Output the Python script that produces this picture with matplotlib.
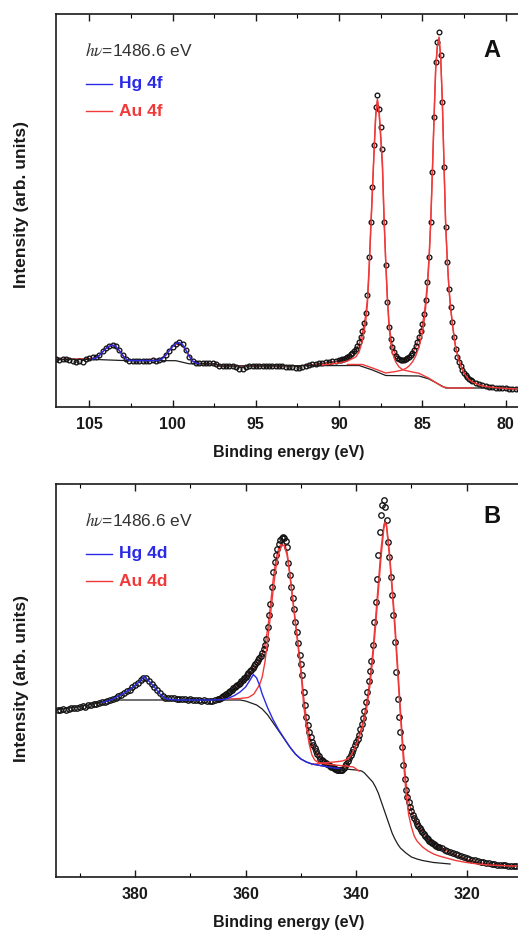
import numpy as np
import matplotlib
matplotlib.use('Agg')
import matplotlib.pyplot as plt
from matplotlib.ticker import MultipleLocator
from matplotlib.lines import Line2D

plt.rcParams['font.family'] = ['Liberation Sans', 'DejaVu Sans']
plt.rcParams['mathtext.fontset'] = 'stix'

# ---------------- Panel A : Hg 4f / Au 4f ----------------
# measured points (binding energy grid, intensity arb. units)
xA = np.concatenate([np.linspace(107.0, 90.2, 85),
                     np.linspace(90.0, 82.0, 81),
                     np.linspace(81.8, 79.0, 15)])
yA = [47.5, 47, 48, 47.5, 47, 45.5, 44.5, 46, 44.5, 48,
      48.5, 49.5, 50, 52, 55.5, 58.5, 61, 62, 60.5, 56.5,
      51.5, 47.5, 46, 46, 46, 45.5, 46, 46, 46, 46.5,
      46, 46.5, 47.5, 51.5, 56, 60, 63, 64.5, 63, 57,
      50, 46, 44, 43.5, 43.5, 43.5, 43.5, 43.5, 43, 41,
      40.5, 40.5, 40.5, 40.5, 40, 38, 37.5, 40, 40.5, 40.5,
      40.5, 40.5, 40.5, 40.5, 40.5, 40.5, 40.5, 40.5, 40.5, 40,
      39.5, 39.5, 38.5, 38.5, 39.5, 41, 42, 42.5, 43, 43.5,
      44, 44.5, 45, 45.5, 46,
      # 90.0 .. 82.0 (0.1 eV)
      46.5, 47, 47.5, 48, 48.5, 50, 51, 52.5, 54, 56,
      58, 61, 65, 70, 76, 84, 94, 112, 150, 185,
      220, 262, 300, 312, 298, 280, 258, 185, 142, 105,
      80, 68, 60, 55, 51, 49, 48, 47, 47, 47,
      47.5, 49, 50, 52, 54, 57, 61, 65, 70, 76,
      83, 93, 107, 125, 150, 185, 235, 290, 345, 365,
      375, 352, 305, 240, 180, 145, 118, 100, 85, 70,
      58, 50, 45, 41, 37, 34, 32, 30, 28, 27,
      26,
      # 81.8 .. 79.0
      24, 22.5, 21.5, 20.5, 20, 19.5, 19, 19, 18.5, 18.5, 18, 18, 18, 17.5, 17.5]

bgA_x = [107, 104.6, 103.0, 99.8, 99.0, 97.4, 97.2, 88.8, 88.0, 87.2, 85.2, 84.6, 83.6, 79]
bgA_y = [47.5, 47.5, 46.5, 46.3, 43.2, 43.2, 41.0, 41.5, 37, 31.5, 31, 28, 19, 19]

hgA_x = [104.8, 104.6, 104.4, 104.2, 104.0, 103.8, 103.6, 103.4, 103.2, 103.0, 102.8,
         102.6, 101.0, 100.8, 100.6, 100.4, 100.2, 100.0, 99.8, 99.6, 99.4, 99.2,
         99.0, 98.8, 98.6, 98.4]
hgA_y = [48, 49, 51.5, 55, 58.5, 61, 62, 60.5, 56.5, 51.5, 48,
         46.5, 46.5, 47, 48.5, 52, 56.5, 60.5, 63.5, 64.5, 62.5, 57,
         50.5, 46, 44, 43.3]

envA_x = [107, 104.8, 104.4, 104.0, 103.6, 103.2, 102.8, 102.6, 100.8, 100.4, 100.0, 99.6,
          99.2, 98.8, 98.5, 97.4, 97.2, 93.0, 92.0, 91.0, 90.0, 89.5, 89.0, 88.8, 88.6,
          88.4, 88.3, 88.2, 88.1, 88.0, 87.9, 87.8, 87.7, 87.6, 87.5, 87.4, 87.3, 87.2,
          87.1, 87.0, 86.9, 86.8, 86.6, 86.4, 86.2, 86.0, 85.8, 85.6, 85.4, 85.2, 85.0,
          84.9, 84.8, 84.7, 84.6, 84.5, 84.4, 84.3, 84.2, 84.1, 84.0, 83.9, 83.8, 83.7,
          83.6, 83.5, 83.4, 83.3, 83.2, 83.1, 83.0, 82.8, 82.6, 82.4, 82.2, 82.0, 81.5,
          81.0, 80.0, 79.0]
envA_y = [47.5, 48.5, 51.5, 58.5, 62, 56.5, 48, 46.5, 47, 52, 60.5, 64.5,
          57, 46, 43.5, 43, 41, 41, 41.5, 43.5, 46, 49.5, 57, 63, 74,
          92, 108, 140, 180, 218, 258, 293, 308, 296, 272, 245, 190, 146,
          110, 84, 70, 61, 52, 48.5, 47.5, 48, 50, 54, 60, 69, 82,
          92, 106, 124, 150, 186, 236, 290, 340, 362, 370, 350, 305, 242,
          182, 146, 118, 99, 84, 71, 60, 47, 38, 32, 28, 25.5, 21.5,
          20, 18.5, 18]

au52A_x = [91.0, 90.0, 89.5, 89.0, 88.8, 88.6, 88.4, 88.3, 88.2, 88.1, 88.0, 87.9, 87.8,
           87.7, 87.6, 87.5, 87.4, 87.3, 87.2, 87.1, 87.0, 86.9, 86.8, 86.6, 86.4, 86.2,
           86.0, 85.6, 85.2, 84.6, 83.8, 83.4, 82.0]
au52A_y = [42, 44, 46, 50, 55, 66, 86, 103, 135, 176, 215, 255, 291,
           306, 294, 268, 240, 186, 144, 106, 80, 64, 54, 45, 40, 37.5,
           36.5, 35, 33.7, 28.7, 20.3, 19, 19]

au72A_x = [89.5, 88.6, 88.0, 87.2, 86.6, 86.2, 86.0, 85.8, 85.6, 85.4, 85.2, 85.0, 84.9,
           84.8, 84.7, 84.6, 84.5, 84.4, 84.3, 84.2, 84.1, 84.0, 83.9, 83.8, 83.7, 83.6,
           83.5, 83.4, 83.3, 83.2, 83.1, 83.0, 82.8, 82.6, 82.4, 82.2, 82.0, 81.5, 81.0,
           80.0, 79.0]
au72A_y = [42.5, 42.5, 39, 34, 35.5, 37, 38.5, 41, 45, 51, 60, 74, 85,
           100, 119, 146, 183, 233, 288, 338, 360, 369, 349, 304, 241, 181,
           145, 117, 98, 83, 70, 59, 46, 37.5, 31.5, 27.5, 25, 21.5, 20,
           18.5, 18]

# ---------------- Panel B : Hg 4d / Au 4d ----------------
xB = np.concatenate([np.linspace(394.0, 365.5, 58),
                     np.linspace(365.0, 325.0, 161),
                     np.linspace(324.5, 311.0, 28)])
yB = [167, 167.5, 168, 167.5, 168.5, 169, 169.5, 169, 170, 171,
      170.5, 172, 172.5, 173, 173.5, 174, 175, 175.5, 176, 177,
      178, 179.5, 181, 182.5, 184, 186, 187.5, 190, 192, 194.5,
      197, 199, 199.5, 196, 193, 190, 187, 184, 181, 179.5,
      179, 179.5, 179, 178.5, 178, 178.5, 178, 177.5, 178, 177,
      177.5, 177, 176.5, 177, 176.5, 176, 176.5, 177.5,
      # 365.0 .. 325.0 (0.25 eV)
      178, 178.5, 179.5, 180,
      181, 182, 183, 184,
      185, 186, 187.5, 189,
      190, 191, 192, 193,
      194.5, 196, 197.5, 199,
      200.5, 202, 204, 206,
      207.5, 209, 211, 213,
      215, 217, 219, 221,
      224, 228, 232, 238,
      250, 262, 273, 290,
      305, 315, 322, 328,
      333, 337, 339, 340,
      339, 336, 330, 314,
      302, 290, 279, 268,
      255, 245, 234, 222,
      213, 202, 185, 172,
      160, 152, 145, 140,
      135, 132, 129, 126,
      123, 121, 118, 117,
      116, 115, 114, 113,
      112, 111, 110.5, 110,
      109, 108, 107.5, 107,
      107, 107, 107.5, 109,
      111, 113, 116, 119,
      122, 125, 128, 132,
      135, 138, 142, 148,
      153, 159, 166, 175,
      185, 196, 206, 216,
      232, 255, 275, 298,
      322, 345, 362, 372,
      377, 370, 357, 335,
      320, 300, 282, 262,
      235, 205, 178, 160,
      145, 130, 112, 98,
      87, 80, 75, 70,
      66, 62, 59, 56,
      53, 51, 49, 47,
      45, 43, 41, 39,
      38, 36.5, 35.5, 34,
      33, 32, 31, 30.5,
      30,
      # 324.5 .. 311.0
      29, 27.5, 26, 25, 24, 23, 22, 21, 20, 19,
      18.5, 17.5, 17, 16, 15.5, 15, 14.5, 14, 13.5, 13,
      12.5, 12.5, 12, 12, 11.5, 11.5, 11, 11]

bgB_x = [394.3, 390, 386, 384.5, 370, 361, 360, 358, 357, 356, 355, 354, 353, 352, 351,
         350, 349, 348, 346, 344, 342, 340, 339, 338.5, 338, 337.5, 337, 336.5, 336,
         335.5, 335, 334.5, 334, 333.5, 333, 332.5, 332, 331, 330, 329, 328, 327, 326,
         325, 324, 323]
bgB_y = [167, 170.5, 174.5, 177, 177, 177, 176, 172, 168, 162, 154, 146, 138, 130, 123,
         118, 115, 113, 111, 109, 108, 107, 106, 104, 101, 98, 95, 90, 84,
         76, 68, 60, 52, 44, 38, 33, 29, 24, 20, 18, 16.5, 15.5, 14.5,
         14, 13.5, 13]

hgB_x = [386, 385, 384, 383, 382, 381, 380, 379, 378.3, 377.5, 376.5, 375.5, 374.5, 373.5,
         372, 366, 364, 363, 362, 361, 360, 359.3, 358.6, 358.0, 357.5, 357.0, 356.5,
         356.0, 355.5, 355.0, 354.0, 353.0, 352, 351, 350, 349, 348, 346, 344, 343]
hgB_y = [174.5, 176, 178, 181, 184, 187.5, 191.5, 196.5, 200.5, 196, 190, 183, 178.5, 177.5,
         177, 177, 177.5, 179, 181.5, 185, 190, 196, 202.5, 199, 192, 183, 176,
         169, 163, 157, 147, 138.5, 130, 123, 118, 115, 113, 111, 109, 108.5]

au52B_x = [363, 361, 359.5, 358.5, 357.5, 357, 356.5, 356, 355.5, 355, 354.5, 354, 353.5,
           353.25, 353, 352.5, 352, 351.5, 351, 350.5, 350, 349.5, 349, 348.5, 348, 347.5,
           347, 346, 344, 342, 340.5, 339.5]
au52B_y = [178, 178.5, 179.5, 183, 192, 200, 215, 237, 262, 288, 310, 324, 331,
           332, 331, 322, 302, 278, 254, 230, 205, 172, 150, 133, 122, 117,
           115, 113.5, 112, 111, 110, 106]

au32B_x = [348, 346, 344, 342.5, 341.5, 341, 340.5, 340, 339.5, 339, 338.5, 338, 337.5,
           337, 336.5, 336, 335.5, 335, 334.75, 334.5, 334, 333.5, 333, 332.5, 332, 331.5,
           331, 330.5, 330, 329.5, 329, 328, 327, 326, 325, 324, 322, 320, 318, 316, 314,
           312, 311]
au32B_y = [112.5, 114, 115, 116, 118, 121, 126, 132, 139, 147, 158, 172, 192,
           218, 250, 285, 320, 348, 355, 350, 322, 287, 248, 205, 162, 120,
           85, 62, 50, 41, 36, 30, 26, 23, 21, 19.5, 16.5, 14.5, 13, 12, 11.5,
           11, 11]

envB_x = [365, 364, 363, 362, 361, 360, 359, 358.5, 358, 357.5, 357, 356.5, 356, 355.5,
          355, 354.5, 354, 353.5, 353.25, 353, 352.5, 352, 351.5, 351, 350.5, 350, 349.5,
          349, 348.5, 348, 347.5, 347, 346, 345, 344, 343, 342.5, 342, 341.5, 341, 340.5,
          340, 339.5, 339, 338.5, 338, 337.5, 337, 336.5, 336, 335.5, 335, 334.75, 334.5,
          334, 333.5, 333, 332.5, 332, 331.5, 331, 330.5, 330, 329.5, 329, 328, 327, 326,
          325, 324, 322, 320, 318, 316, 314, 312, 311]
envB_y = [178, 180.5, 184, 188, 193, 199, 205, 208, 212, 217, 223, 232, 248, 272,
          298, 318, 329, 334, 335, 334, 325, 304, 280, 256, 233, 210, 180,
          158, 143, 133, 127, 122, 116.5, 113, 110.5, 109, 109, 110.5, 114, 120, 126,
          133, 141, 150, 162, 178, 198, 225, 258, 293, 328, 352, 356, 352,
          326, 292, 255, 212, 168, 128, 95, 76, 66, 59, 53, 45, 38, 33,
          30, 27, 22, 17.5, 14.5, 13, 12, 11, 11]

# ---------------- drawing ----------------
RED = '#f03a3a'
BLUE = '#2a2ae6'
BLACK = '#1e1e1e'

fig = plt.figure(figsize=(5.18, 9.31), dpi=100)
axA = fig.add_axes([56 / 518, 1 - 407 / 931, 466.3 / 518, 393 / 931])
axB = fig.add_axes([56 / 518, 1 - 877 / 931, 466.0 / 518, 393 / 931])


def draw(ax, x, y, ms, env, comps, hg, bg):
    ax.plot(env[0], env[1], color=RED, lw=1.0, zorder=1.5)
    ax.plot(x, y, 'o', mfc='none', mec='#111111', ms=ms, mew=0.95, zorder=2)
    ax.plot(bg[0], bg[1], color=BLACK, lw=0.9, zorder=3)
    for cx, cy in comps:
        ax.plot(cx, cy, color=RED, lw=1.0, zorder=3.2)
    ax.plot(hg[0], hg[1], color=BLUE, lw=1.0, zorder=3.4)


draw(axA, xA, yA, 3.4, (envA_x, envA_y), [(au52A_x, au52A_y), (au72A_x, au72A_y)],
     (hgA_x, hgA_y), (bgA_x, bgA_y))
draw(axB, xB, yB, 3.9, (envB_x, envB_y), [(au52B_x, au52B_y), (au32B_x, au32B_y)],
     (hgB_x, hgB_y), (bgB_x, bgB_y))

axA.set_xlim(107, 79)
axA.set_ylim(0, 393)
axB.set_xlim(394.3, 310)
axB.set_ylim(0, 393)


def style(ax, major, minor):
    ax.xaxis.set_major_locator(MultipleLocator(major))
    ax.xaxis.set_minor_locator(MultipleLocator(minor))
    ax.tick_params(axis='x', which='both', direction='in', top=True, bottom=True,
                   labeltop=False)
    ax.tick_params(axis='x', which='major', length=5, width=1.0, labelsize=11.5,
                   pad=7, colors='#1a1a1a')
    ax.tick_params(axis='x', which='minor', length=3, width=0.8)
    ax.set_yticks([])
    for lab in ax.get_xticklabels():
        lab.set_fontweight('bold')
    for s in ax.spines.values():
        s.set_linewidth(1.2)
        s.set_color('#1a1a1a')


style(axA, 5, 2.5)
style(axB, 20, 10)

for ax, tags, letter, ly in [(axA, ('Hg 4f', 'Au 4f'), 'A', 0.908),
                             (axB, ('Hg 4d', 'Au 4d'), 'B', 0.917)]:
    ax.text(0.062, 0.908, r'$h\nu$=1486.6 eV', transform=ax.transAxes, fontsize=12.5,
            color='#333333', va='center', ha='left')
    for (lab, col, yy) in [(tags[0], BLUE, 0.822), (tags[1], RED, 0.752)]:
        ax.add_line(Line2D([0.0643, 0.1201], [yy, yy], transform=ax.transAxes,
                           color=col, lw=1.0))
        ax.text(0.1351, yy, lab, transform=ax.transAxes, fontsize=12.5,
                fontweight='bold', color=col, va='center', ha='left')
    ax.text(0.935, ly, letter, transform=ax.transAxes, fontsize=17, fontweight='bold',
            color='#111111', va='center', ha='center')

for yc in (452, 922):
    fig.text(289 / 518, 1 - yc / 931, 'Binding energy (eV)', ha='center', va='center',
             fontsize=11.5, fontweight='bold', color='#1a1a1a')
for yc in (205, 678):
    fig.text(22 / 518, 1 - yc / 931, 'Intensity (arb. units)', ha='center', va='center',
             rotation=90, fontsize=12.5, fontweight='bold', color='#1a1a1a')

fig.savefig('out.png', dpi=100)
